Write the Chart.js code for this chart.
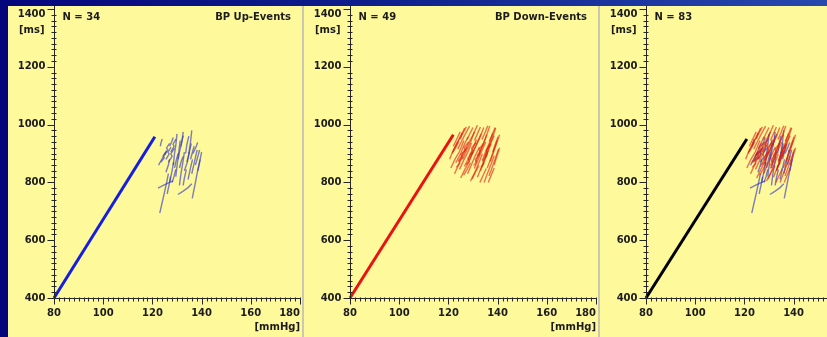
<!DOCTYPE html>
<html>
<head>
<meta charset="utf-8">
<title>BP events</title>
<script src="https://cdn.jsdelivr.net/npm/chart.js@4.4.0/dist/chart.umd.min.js"></script>
<style>
  body {
    margin: 0;
    width: 827px;
    height: 337px;
    overflow: hidden;
    position: relative;
    background: linear-gradient(90deg, #06067c 0%, #0e1f8c 45%, #2848ae 100%);
  }
  .strip {
    position: absolute;
    left: 8px; top: 6px; width: 830px; height: 331px;
    background: #cac8b0;
  }
  .panel {
    position: absolute;
    top: 6px;
    width: 294px;
    height: 331px;
    background: #fef99b;
  }
  #p1 { left: 8px; }
  #p2 { left: 304px; }
  #p3 { left: 600px; }
  canvas { display: block; }
</style>
</head>
<body>
<div class="strip"></div>
<div class="panel" id="p1"><canvas id="chart1" width="294" height="331"></canvas></div>
<div class="panel" id="p2"><canvas id="chart2" width="294" height="331"></canvas></div>
<div class="panel" id="p3"><canvas id="chart3" width="294" height="331"></canvas></div>

<script>
// axis ticks
var xTicks = [80, 100, 120, 140, 160, 180];
var yTicks = [400, 600, 800, 1000, 1200, 1400];

// fitted line for each group: [mmHg, ms]
var upLine = [[80, 400], [121, 958]];
var downLine = [[80, 400], [122, 965]];
var allLine = [[80, 400], [121, 950]];

// BP up-events (34 sequences of [mmHg, ms])
var upEvents = [
    [[123.2, 925], [123.6, 940], [124.0, 950]],
    [[125.0, 895], [126.2, 912], [125.8, 920], [127.0, 935]],
    [[125.5, 880], [126.8, 898], [126.3, 905], [127.6, 922]],
    [[126.5, 870], [128.0, 890], [127.5, 900], [129.0, 918]],
    [[127.5, 905], [128.8, 925], [128.4, 932], [129.6, 950]],
    [[128.5, 860], [129.0, 900], [129.6, 935], [130.0, 968]],
    [[129.5, 820], [130.2, 870], [130.8, 910], [131.3, 945]],
    [[130.5, 880], [131.0, 905], [132.0, 940], [132.5, 975]],
    [[131.0, 790], [131.6, 830], [132.4, 870], [133.0, 905]],
    [[127.0, 800], [128.0, 840], [128.6, 870]],
    [[126.0, 760], [127.0, 800], [127.4, 820]],
    [[123.0, 694], [124.5, 750], [125.8, 800], [126.5, 830]],
    [[122.3, 780], [125.0, 792], [128.4, 805]],
    [[133.5, 900], [134.0, 930], [134.8, 960]],
    [[133.0, 840], [134.2, 870], [135.0, 905]],
    [[134.5, 810], [135.5, 850], [136.3, 880]],
    [[136.0, 830], [136.8, 860], [137.6, 890], [138.2, 912]],
    [[137.5, 860], [138.5, 890], [139.2, 912]],
    [[138.5, 840], [139.2, 870], [140.0, 905]],
    [[136.2, 745], [137.5, 800], [138.5, 845], [139.4, 880]],
    [[130.4, 758], [132.5, 770], [134.5, 782], [136.0, 795]],
    [[132.5, 790], [133.0, 815], [133.8, 845]],
    [[129.0, 850], [129.8, 880], [130.5, 900]],
    [[122.5, 860], [123.5, 875], [124.5, 890], [125.5, 905]],
    [[123.5, 870], [124.8, 885], [124.4, 892], [125.8, 910]],
    [[127.0, 925], [127.8, 940], [128.5, 955]],
    [[131.5, 925], [132.0, 945], [132.6, 962]],
    [[134.0, 870], [134.6, 890], [135.3, 915], [135.8, 935]],
    [[135.5, 880], [136.3, 905], [137.0, 925]],
    [[134.8, 900], [135.5, 940], [136.0, 980]],
    [[125.5, 835], [126.5, 860], [127.0, 880]],
    [[128.0, 800], [128.8, 820], [129.5, 845]],
    [[131.0, 850], [131.8, 875], [132.5, 890]],
    [[136.5, 900], [137.6, 920], [138.4, 938]]
];

// BP down-events (49 sequences of [mmHg, ms])
var downEvents = [
    [[120.5, 880], [122.0, 912], [123.8, 940], [125.6, 972]],
    [[121.0, 850], [122.8, 882], [124.4, 905], [126.3, 945]],
    [[121.8, 905], [123.4, 935], [125.0, 958], [126.6, 988]],
    [[122.5, 830], [124.2, 862], [125.9, 893], [127.5, 922]],
    [[123.0, 868], [124.8, 896], [126.4, 930], [128.0, 958]],
    [[123.8, 915], [125.2, 940], [126.9, 968], [128.6, 995]],
    [[124.5, 845], [126.3, 878], [127.8, 903], [129.4, 936]],
    [[125.0, 815], [126.7, 845], [128.4, 872], [130.0, 905]],
    [[125.8, 880], [127.5, 912], [129.0, 940], [130.6, 975]],
    [[126.5, 855], [128.3, 885], [129.8, 915], [131.4, 948]],
    [[127.0, 915], [128.6, 942], [130.2, 968], [131.8, 998]],
    [[127.8, 830], [129.4, 862], [131.0, 894], [132.6, 922]],
    [[128.5, 878], [130.0, 905], [131.7, 938], [133.3, 968]],
    [[129.0, 805], [130.8, 836], [132.3, 866], [133.8, 898]],
    [[129.8, 900], [131.3, 928], [132.8, 955], [134.4, 990]],
    [[130.5, 848], [132.0, 878], [133.6, 910], [135.2, 940]],
    [[131.0, 870], [132.6, 902], [134.2, 932], [135.6, 965]],
    [[131.8, 818], [133.3, 850], [134.9, 884], [136.3, 912]],
    [[132.5, 902], [134.0, 930], [135.4, 960], [136.8, 995]],
    [[133.0, 840], [134.6, 872], [136.0, 905], [137.4, 935]],
    [[133.8, 876], [135.2, 908], [136.7, 938], [138.0, 970]],
    [[134.5, 800], [135.9, 832], [137.3, 862], [138.6, 892]],
    [[135.0, 895], [136.4, 924], [137.8, 952], [139.2, 988]],
    [[135.8, 850], [137.2, 882], [138.6, 915], [139.8, 945]],
    [[136.5, 822], [137.8, 852], [139.1, 884], [140.4, 915]],
    [[137.0, 872], [138.3, 903], [139.6, 935], [140.8, 965]],
    [[122.0, 925], [123.4, 950], [124.8, 975]],
    [[124.8, 950], [126.0, 972], [127.3, 992]],
    [[127.6, 948], [128.8, 970], [130.0, 990]],
    [[130.6, 945], [131.8, 968], [133.0, 992]],
    [[133.6, 948], [134.8, 970], [136.0, 996]],
    [[136.6, 942], [137.8, 965], [139.0, 990]],
    [[138.0, 905], [139.0, 930], [140.2, 958]],
    [[125.5, 898], [126.8, 910], [126.4, 920], [128.2, 940]],
    [[128.6, 895], [129.9, 908], [129.4, 918], [131.2, 938]],
    [[131.6, 892], [132.9, 905], [132.5, 915], [134.2, 935]],
    [[134.6, 888], [135.8, 900], [135.4, 912], [137.0, 932]],
    [[127.2, 862], [128.4, 872], [128.0, 884], [129.8, 904]],
    [[130.2, 858], [131.4, 870], [131.0, 880], [132.8, 900]],
    [[133.2, 852], [134.4, 865], [134.0, 876], [135.8, 896]],
    [[124.2, 872], [125.6, 885], [125.2, 896], [127.0, 915]],
    [[126.2, 825], [127.6, 845], [129.0, 868]],
    [[129.6, 812], [131.0, 835], [132.4, 858]],
    [[132.8, 800], [134.0, 822], [135.4, 848]],
    [[136.2, 800], [137.3, 823], [138.6, 850]],
    [[121.5, 900], [122.8, 918], [124.2, 940]],
    [[138.6, 860], [139.6, 888], [140.8, 920]],
    [[123.2, 852], [124.6, 866], [124.2, 876], [125.9, 898]],
    [[136.0, 915], [137.2, 935], [138.6, 962]]
];

var xUnit = "[mmHg]";
var yUnit = "[ms]";

var BLUE_LINE = "rgb(20, 30, 225)";
var RED_LINE = "rgb(232, 18, 18)";
var BLUE_EVENT = "rgba(45, 50, 195, 0.62)";
var RED_EVENT = "rgba(220, 25, 15, 0.6)";
var INK = "#1c1c1c";

function toPoints(pairs) {
    return pairs.map(function (p) { return { x: p[0], y: p[1] }; });
}

function eventSets(events, color) {
    return events.map(function (ev) {
        return {
            data: toPoints(ev),
            showLine: true,
            borderColor: color,
            borderWidth: 1.4,
            pointRadius: 0,
            clip: false
        };
    });
}

//draws axis lines, minor/major ticks and all the panel text
var panelAxes = {
    id: "panelAxes",
    afterDraw: function (chart, args, opts) {
        var ctx = chart.ctx;
        var xs = chart.scales.x, ys = chart.scales.y;
        var left = Math.round(xs.getPixelForValue(xTicks[0])) + 0.5;
        var right = xs.getPixelForValue(xTicks[xTicks.length - 1]);
        var bottom = Math.round(ys.getPixelForValue(yTicks[0])) + 0.5;
        var top = ys.getPixelForValue(yTicks[yTicks.length - 1]);

        ctx.save();
        ctx.strokeStyle = "#262626";
        ctx.lineWidth = 1;
        ctx.beginPath();
        ctx.moveTo(left, top - 3);
        ctx.lineTo(left, bottom);
        ctx.lineTo(right + 1, bottom);

        var v, p, major;
        for (v = 400; v <= 1400; v += 20) {
            p = Math.round(ys.getPixelForValue(v)) + 0.5;
            major = (v % 200 === 0);
            ctx.moveTo(left - (major ? 7 : 3), p);
            ctx.lineTo(left + (major ? 0 : 2), p);
        }
        for (v = 80; v <= 180; v += 2) {
            p = Math.round(xs.getPixelForValue(v)) + 0.5;
            major = (v % 20 === 0);
            ctx.moveTo(p, bottom - 1);
            ctx.lineTo(p, bottom + (major ? 6 : 3));
        }
        ctx.stroke();

        ctx.fillStyle = INK;
        ctx.font = "bold 10px 'DejaVu Sans'";

        // y labels
        ctx.textAlign = "right";
        ctx.textBaseline = "middle";
        yTicks.forEach(function (t) {
            var y = Math.max(ys.getPixelForValue(t), 8);
            ctx.fillText(String(t), left - 9, y);
        });
        ctx.fillText(yUnit, left - 10, 24);

        // x labels
        ctx.textBaseline = "middle";
        xTicks.forEach(function (t, i) {
            var x = xs.getPixelForValue(t);
            if (i === xTicks.length - 1) {
                ctx.textAlign = "right";
                ctx.fillText(String(t), x, bottom + 15);
            } else {
                ctx.textAlign = "center";
                ctx.fillText(String(t), x, bottom + 15);
            }
        });
        ctx.textAlign = "right";
        ctx.fillText(xUnit, right, bottom + 29);

        // panel headings
        ctx.textAlign = "left";
        ctx.fillText("N = " + opts.n, left + 8, 11);
        if (opts.title) {
            ctx.textAlign = "right";
            ctx.fillText(opts.title, right - 9, 11);
        }
        ctx.restore();
    }
};

function makeChart(canvasId, line, lineColor, sets, n, title) {
    var datasets = [{
        data: toPoints(line),
        showLine: true,
        borderColor: lineColor,
        borderWidth: 3,
        pointRadius: 0,
        clip: false
    }].concat(sets);

    return new Chart(document.getElementById(canvasId).getContext("2d"), {
        type: "scatter",
        data: { datasets: datasets },
        options: {
            responsive: false,
            animation: false,
            devicePixelRatio: 1,
            layout: { padding: { left: 46, right: 2, top: 3, bottom: 39 } },
            plugins: {
                legend: { display: false },
                tooltip: { enabled: false },
                panelAxes: { n: n, title: title }
            },
            scales: {
                x: { type: "linear", min: 80, max: 180, display: false },
                y: { type: "linear", min: 400, max: 1400, display: false }
            }
        },
        plugins: [panelAxes]
    });
}

makeChart("chart1", upLine, BLUE_LINE, eventSets(upEvents, BLUE_EVENT), upEvents.length, "BP Up-Events");
makeChart("chart2", downLine, RED_LINE, eventSets(downEvents, RED_EVENT), downEvents.length, "BP Down-Events");
makeChart("chart3", allLine, "#000000",
    eventSets(downEvents, RED_EVENT).concat(eventSets(upEvents, BLUE_EVENT)),
    upEvents.length + downEvents.length, null);
</script>
</body>
</html>
